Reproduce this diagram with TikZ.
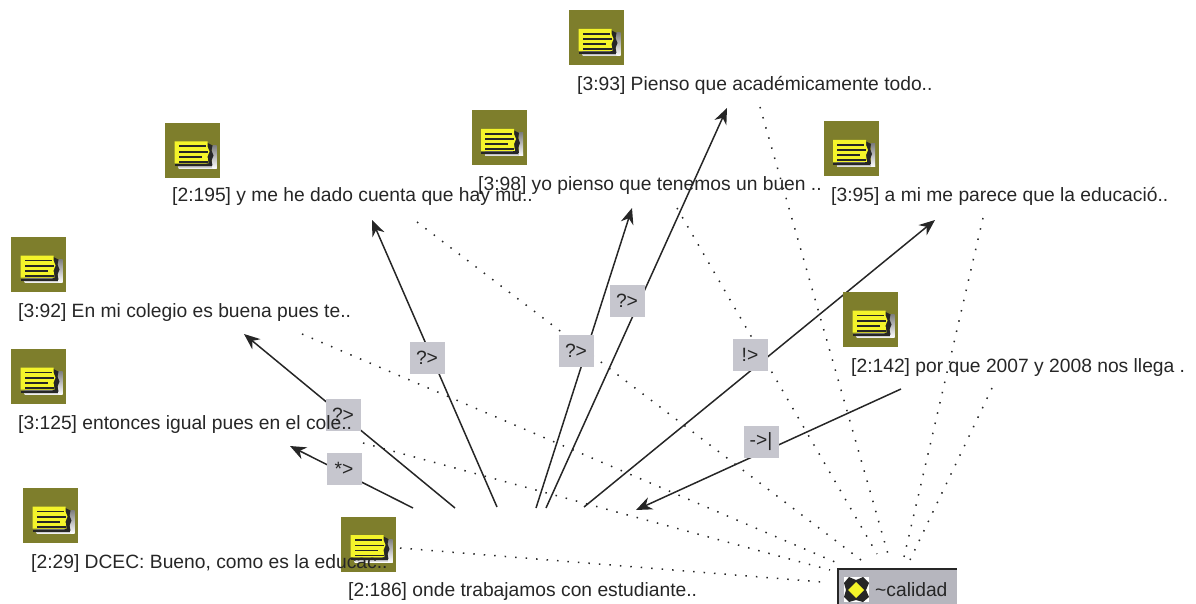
\documentclass[tikz,border=0pt]{standalone}
\usepackage{fontspec}
\setmainfont{Liberation Sans}
\usetikzlibrary{arrows.meta}
\definecolor{olive}{HTML}{7E7E2C}
\definecolor{notey}{HTML}{F4F42A}
\definecolor{lab}{HTML}{C6C6CE}
\definecolor{ink}{HTML}{262626}
\definecolor{shade}{HTML}{A0A09C}
\tikzset{
  x=1pt,y=-1pt,
  notebox/.style={minimum size=55pt,inner sep=0pt,outer sep=0pt,fill=olive,
    path picture={
      \begin{scope}[shift={(path picture bounding box.center)}]
      \fill[shade] (-14,14) rectangle (24,18);
      \fill[shade] (20,-5) rectangle (24,18);
      \fill[ink] (-18,14) -- (19,14) -- (19,16) -- (-18,16) -- cycle;
      \fill[ink] (14,-8) -- (20,-5) -- (19,0) -- (21,5) -- (19,10) -- (20,15) -- (14,15) -- cycle;
      \fill[notey] (-18,-9) -- (15,-9) -- (15,-4) -- (17,1) -- (15,6) -- (16,13) -- (-18,13) -- cycle;
      \foreach \dy/\w in {-5/27,0.5/29,5.5/23,10.5/29}{
        \fill[ink] (-14,\dy) rectangle ++(\w,1.6);}
      \end{scope}
    }},
  captext/.style={anchor=base west,inner sep=0pt,text=ink,font=\fontsize{19.25}{20}\selectfont},
  rel/.style={minimum width=35pt,minimum height=32pt,inner sep=0pt,fill=lab,text=ink,font=\fontsize{19.25}{20}\selectfont},
  arr/.style={draw=ink,line width=1.5pt,-{Stealth[length=16pt,width=13pt]}},
  dotlink/.style={draw=ink,line width=1.5pt,dash pattern=on 1.5pt off 9pt}
}
\begin{document}
\begin{tikzpicture}
\useasboundingbox (0,0) rectangle (1196,604);
% free ends
\foreach \n/\x/\y in {
  da1/760/107,da2/888/554, db1/983/218,db2/904/557, dc1/992/388,dc2/910/560,
  dd1/677/208,dd2/877/554, de1/417/222,de2/861/560, df1/302/334,df2/835/562,
  dg1/363/443,dg2/830/570, dh1/400/548,dh2/822/582,
  s1/413/508,t1/290/446, s2/455/508,t2/244/334, s3/497/507,t3/372/220,
  s4/536/508,t4/632/208, s5/546/508,t5/727/108, s6/584/507,t6/935/220,
  s7/901/389,t7/636/510}
  {\coordinate (\n) at (\x,\y);}
% dotted links
\foreach \a/\b in {da1/da2,db1/db2,dc1/dc2,dd1/dd2,de1/de2,df1/df2,dg1/dg2,dh1/dh2}
  {\draw[dotlink] (\a) -- (\b);}
% arrows
\foreach \a/\b in {s1/t1,s2/t2,s3/t3,s4/t4,s5/t5,s6/t6,s7/t7}
  {\draw[arr] (\a) -- (\b);}
% relation labels
\node[rel] (r1) at (344,469) {*>};
\node[rel] (r2) at (343,415) {?>};
\node[rel] (r3) at (427,358) {?>};
\node[rel] (r4) at (576,351) {?>};
\node[rel] (r5) at (627,301) {?>};
\node[rel] (r6) at (750,355) {!>};
\node[rel] (r7) at (761,442) {->|};
% icons
\node[notebox] (i1) at (596.5,38) {};
\node[notebox] (i2) at (192.5,150.5) {};
\node[notebox] (i3) at (499,138) {};
\node[notebox] (i4) at (851,149) {};
\node[notebox] (i5) at (870.5,319.5) {};
\node[notebox] (i6) at (38.5,264.5) {};
\node[notebox] (i7) at (38.5,376.5) {};
\node[notebox] (i8) at (50.5,515.5) {};
\node[notebox] (i9) at (368.5,544) {};
% captions
\node[captext] (c1) at (577,91) {[3:93] Pienso que académicamente todo..};
\node[captext] (c2) at (172,202) {[2:195] y me he dado cuenta que hay mu..};
\node[captext] (c3) at (478,190) {[3:98] yo pienso que tenemos un buen ..};
\node[captext] (c4) at (831,201) {[3:95] a mi me parece que la educació..};
\node[captext] (c5) at (851,372) {[2:142] por que 2007 y 2008 nos llega .};
\node[captext] (c6) at (18,317) {[3:92] En mi colegio es buena pues te..};
\node[captext] (c7) at (18,429) {[3:125] entonces igual pues en el cole..};
\node[captext] (c8) at (31,568) {[2:29] DCEC: Bueno, como es la educac..};
\node[captext] (c9) at (348,596) {[2:186] onde trabajamos con estudiante..};
% code node
\node[anchor=north west,minimum width=119pt,minimum height=35pt,inner sep=0pt,fill=lab!92!black] (q) at (838,569) {};
\draw[ink,line width=1.5pt] (q.south west) -- (q.north west) -- (q.north east);
\fill[white] (844,577) rectangle (869,602);
\fill[ink] (849,577) -- (856,580) -- (863,577) -- (869,583) -- (866,590) -- (869,597) -- (863,602) -- (856,600) -- (849,602) -- (844,597) -- (846,590) -- (844,583) -- cycle;
\fill[notey] (856,582) -- (864,590) -- (856,598) -- (848,590) -- cycle;
\node[captext] (q1) at (875,596) {\textasciitilde calidad};
\end{tikzpicture}
\end{document}
